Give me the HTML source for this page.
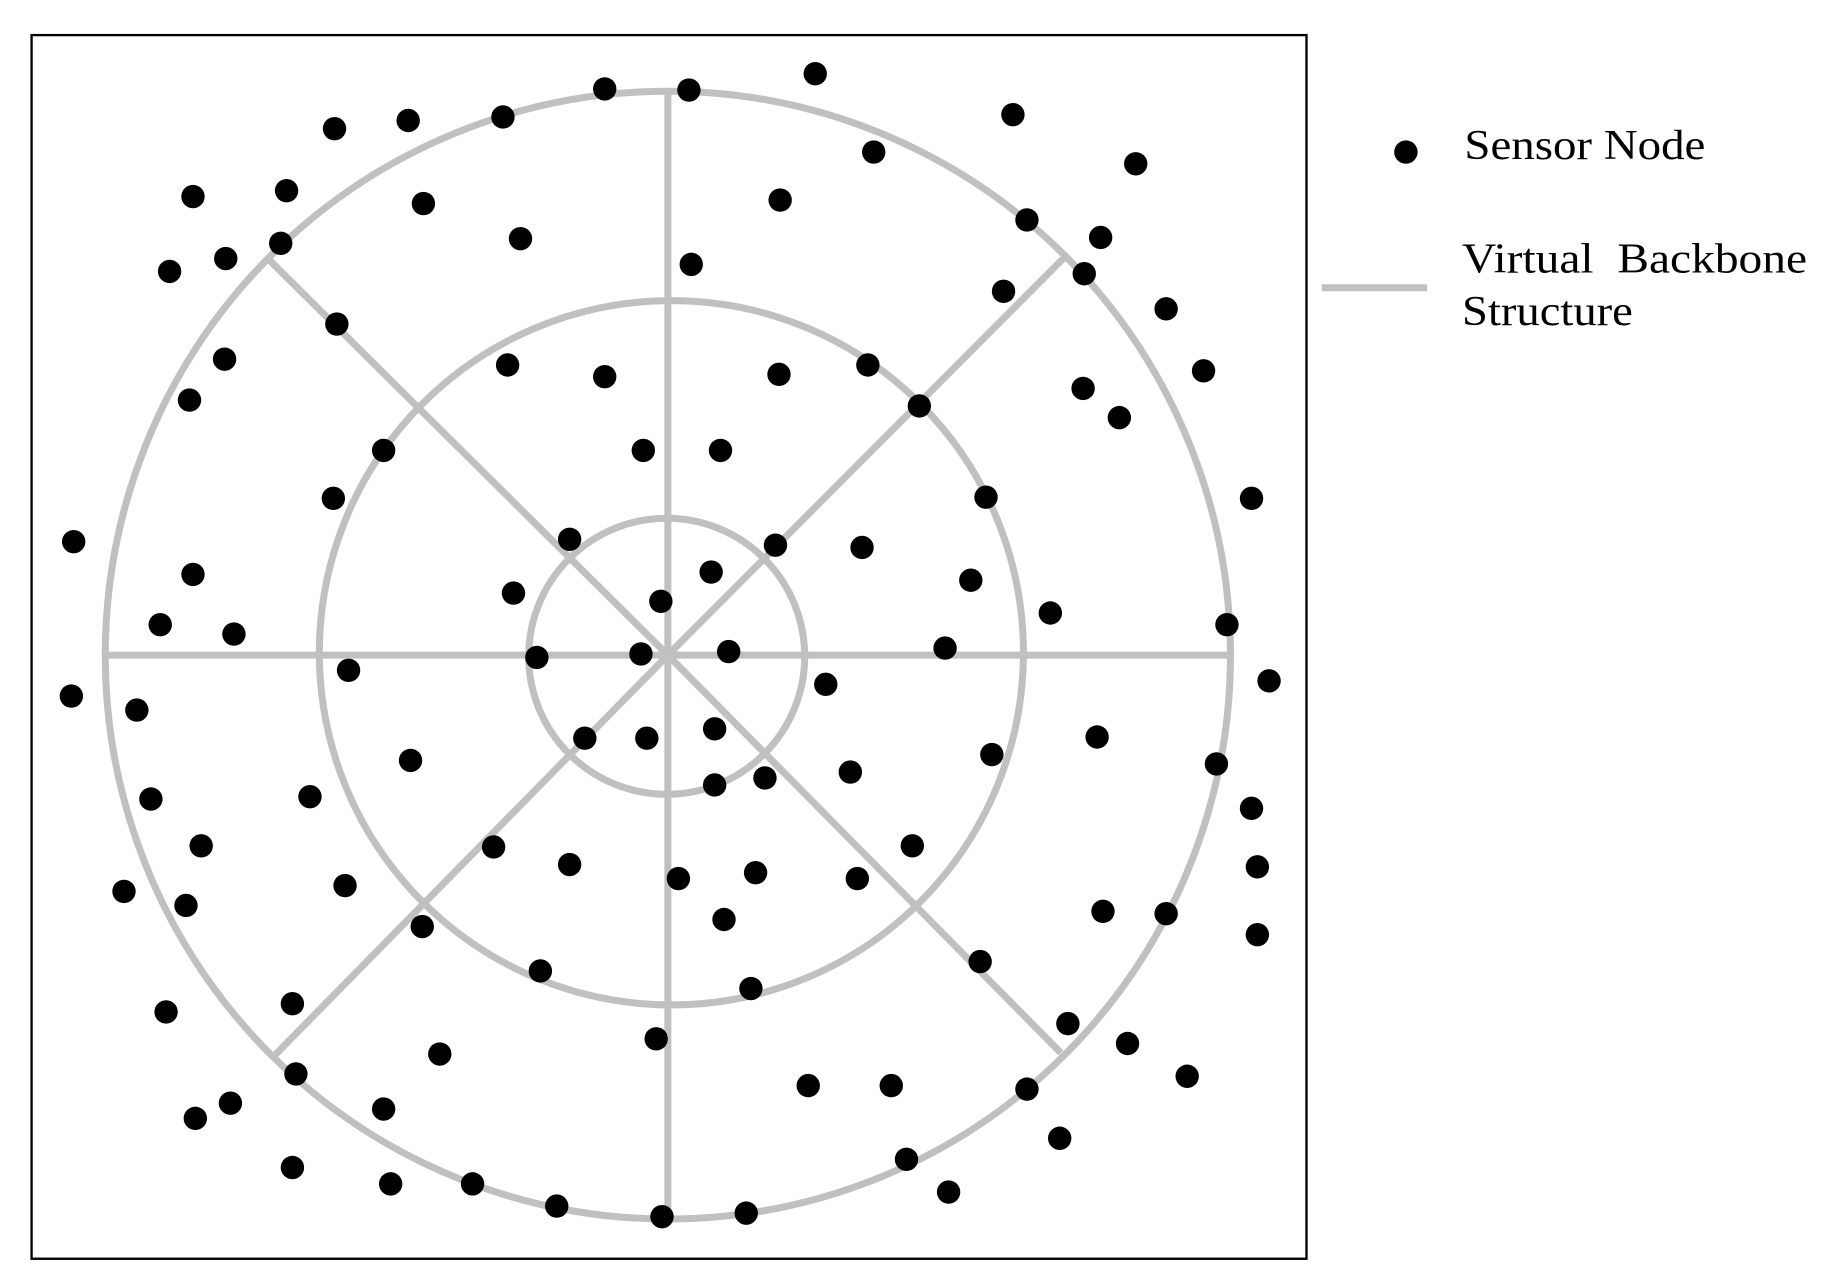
<!DOCTYPE html>
<html><head><style>html,body{margin:0;padding:0;background:#fff}svg{display:block}</style></head><body>
<svg width="1834" height="1288" viewBox="0 0 1568 1101" preserveAspectRatio="none" xmlns="http://www.w3.org/2000/svg">
<rect x="0" y="0" width="1568" height="1101" fill="#fff"/>
<rect x="27" y="30" width="1090" height="1046" fill="none" stroke="#000" stroke-width="2"/>
<g fill="none" stroke="#c0c0c0" stroke-width="6">
<ellipse cx="571" cy="560" rx="481" ry="482"/>
<circle cx="574" cy="558" r="301"/>
<circle cx="570" cy="561" r="118"/>
<line x1="571" y1="78" x2="571" y2="1042"/>
<line x1="90" y1="560" x2="1052" y2="560"/>
<line x1="571" y1="560" x2="230" y2="222"/>
<line x1="571" y1="560" x2="912" y2="218"/>
<line x1="571" y1="560" x2="232" y2="905"/>
<line x1="571" y1="560" x2="907" y2="900"/>
<line x1="1130" y1="246" x2="1220" y2="246"/>
</g>
<g fill="#000">
<circle cx="517" cy="76" r="10"/><circle cx="589" cy="77" r="10"/><circle cx="697" cy="63" r="10"/><circle cx="286" cy="110" r="10"/><circle cx="349" cy="103" r="10"/><circle cx="430" cy="100" r="10"/><circle cx="866" cy="98" r="10"/><circle cx="747" cy="130" r="10"/><circle cx="971" cy="140" r="10"/><circle cx="165" cy="168" r="10"/><circle cx="245" cy="163" r="10"/><circle cx="362" cy="174" r="10"/><circle cx="667" cy="171" r="10"/><circle cx="878" cy="188" r="10"/><circle cx="941" cy="203" r="10"/><circle cx="145" cy="232" r="10"/><circle cx="193" cy="221" r="10"/><circle cx="240" cy="208" r="10"/><circle cx="445" cy="204" r="10"/><circle cx="591" cy="226" r="10"/><circle cx="927" cy="234" r="10"/><circle cx="858" cy="249" r="10"/><circle cx="997" cy="264" r="10"/><circle cx="288" cy="277" r="10"/><circle cx="192" cy="307" r="10"/><circle cx="162" cy="342" r="10"/><circle cx="434" cy="312" r="10"/><circle cx="517" cy="322" r="10"/><circle cx="666" cy="320" r="10"/><circle cx="742" cy="312" r="10"/><circle cx="1029" cy="317" r="10"/><circle cx="926" cy="332" r="10"/><circle cx="957" cy="357" r="10"/><circle cx="786" cy="347" r="10"/><circle cx="328" cy="385" r="10"/><circle cx="550" cy="385" r="10"/><circle cx="616" cy="385" r="10"/><circle cx="285" cy="426" r="10"/><circle cx="843" cy="425" r="10"/><circle cx="1070" cy="426" r="10"/><circle cx="63" cy="463" r="10"/><circle cx="487" cy="461" r="10"/><circle cx="663" cy="466" r="10"/><circle cx="737" cy="468" r="10"/><circle cx="608" cy="489" r="10"/><circle cx="165" cy="491" r="10"/><circle cx="439" cy="507" r="10"/><circle cx="830" cy="496" r="10"/><circle cx="565" cy="514" r="10"/><circle cx="898" cy="524" r="10"/><circle cx="137" cy="534" r="10"/><circle cx="200" cy="542" r="10"/><circle cx="1049" cy="534" r="10"/><circle cx="459" cy="562" r="10"/><circle cx="548" cy="559" r="10"/><circle cx="623" cy="557" r="10"/><circle cx="808" cy="554" r="10"/><circle cx="298" cy="573" r="10"/><circle cx="706" cy="585" r="10"/><circle cx="1085" cy="582" r="10"/><circle cx="61" cy="595" r="10"/><circle cx="117" cy="607" r="10"/><circle cx="500" cy="631" r="10"/><circle cx="553" cy="631" r="10"/><circle cx="611" cy="623" r="10"/><circle cx="938" cy="630" r="10"/><circle cx="351" cy="650" r="10"/><circle cx="848" cy="645" r="10"/><circle cx="1040" cy="653" r="10"/><circle cx="129" cy="683" r="10"/><circle cx="265" cy="681" r="10"/><circle cx="611" cy="671" r="10"/><circle cx="654" cy="665" r="10"/><circle cx="727" cy="660" r="10"/><circle cx="1070" cy="691" r="10"/><circle cx="172" cy="723" r="10"/><circle cx="422" cy="724" r="10"/><circle cx="487" cy="739" r="10"/><circle cx="580" cy="751" r="10"/><circle cx="646" cy="746" r="10"/><circle cx="733" cy="751" r="10"/><circle cx="780" cy="723" r="10"/><circle cx="1075" cy="741" r="10"/><circle cx="106" cy="762" r="10"/><circle cx="159" cy="774" r="10"/><circle cx="295" cy="757" r="10"/><circle cx="619" cy="786" r="10"/><circle cx="943" cy="779" r="10"/><circle cx="997" cy="781" r="10"/><circle cx="1075" cy="799" r="10"/><circle cx="361" cy="792" r="10"/><circle cx="462" cy="830" r="10"/><circle cx="838" cy="822" r="10"/><circle cx="642" cy="845" r="10"/><circle cx="142" cy="865" r="10"/><circle cx="250" cy="858" r="10"/><circle cx="913" cy="875" r="10"/><circle cx="561" cy="888" r="10"/><circle cx="964" cy="892" r="10"/><circle cx="376" cy="901" r="10"/><circle cx="1015" cy="920" r="10"/><circle cx="253" cy="918" r="10"/><circle cx="691" cy="928" r="10"/><circle cx="762" cy="928" r="10"/><circle cx="878" cy="931" r="10"/><circle cx="197" cy="943" r="10"/><circle cx="167" cy="956" r="10"/><circle cx="328" cy="948" r="10"/><circle cx="906" cy="973" r="10"/><circle cx="775" cy="991" r="10"/><circle cx="250" cy="998" r="10"/><circle cx="334" cy="1012" r="10"/><circle cx="404" cy="1012" r="10"/><circle cx="811" cy="1019" r="10"/><circle cx="476" cy="1031" r="10"/><circle cx="566" cy="1040" r="10"/><circle cx="638" cy="1037" r="10"/>
<circle cx="1202" cy="130" r="10"/>
</g>
<g font-family="Liberation Serif, serif" font-size="36" fill="#000">
<text x="1252" y="136" textLength="206" lengthAdjust="spacingAndGlyphs">Sensor Node</text>
<text x="1250" y="233" textLength="295" lengthAdjust="spacingAndGlyphs" xml:space="preserve">Virtual  Backbone</text>
<text x="1250" y="278" textLength="146" lengthAdjust="spacingAndGlyphs">Structure</text>
</g>
</svg>
</body></html>
